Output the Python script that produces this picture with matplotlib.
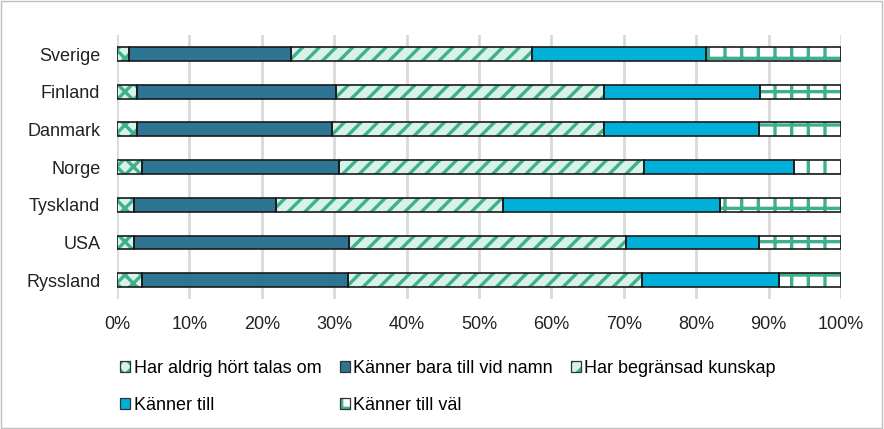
import numpy as np
import matplotlib.pyplot as plt
from matplotlib.patches import Patch, Rectangle

countries = ['Sverige', 'Finland', 'Danmark', 'Norge', 'Tyskland', 'USA', 'Ryssland']
series_names = ['Har aldrig hört talas om', 'Känner bara till vid namn',
                'Har begränsad kunskap', 'Känner till', 'Känner till väl']
aldrig = [1.6, 2.8, 2.8, 3.5, 2.3, 2.3, 3.5]
namn = [22.4, 27.5, 26.9, 27.1, 19.7, 29.7, 28.4]
begransad = [33.3, 36.9, 37.6, 42.2, 31.3, 38.3, 40.6]
kanner = [24.0, 21.6, 21.3, 20.7, 30.0, 18.4, 19.0]
val = [18.7, 11.2, 11.4, 6.5, 16.7, 11.3, 8.5]

green = '#3fb08f'
mint = '#d6f2e9'
styles = [
    dict(facecolor=mint, hatch='xx', hatchcol=green),
    dict(facecolor='#2d7592', hatch=None, hatchcol=None),
    dict(facecolor=mint, hatch='//', hatchcol=green),
    dict(facecolor='#00b0d8', hatch=None, hatchcol=None),
    dict(facecolor='white', hatch='+', hatchcol=green),
]

plt.rcParams['font.family'] = ['Liberation Sans', 'DejaVu Sans']
plt.rcParams['hatch.linewidth'] = 2.4
fs = 13

fig = plt.figure(figsize=(8.84, 4.29), dpi=100)
ax = fig.add_axes([0.1324, 0.303, 0.819, 0.615])

data = np.array([aldrig, namn, begransad, kanner, val])
data = data / data.sum(axis=0) * 100
y = np.arange(len(countries))
left = np.zeros(len(countries))
h = 0.37
for vals, st in zip(data, styles):
    if st['hatch']:
        ax.barh(y, vals, left=left, height=h, color=st['facecolor'],
                hatch=st['hatch'], edgecolor=st['hatchcol'], linewidth=0, zorder=2)
    else:
        ax.barh(y, vals, left=left, height=h, color=st['facecolor'], linewidth=0, zorder=2)
    ax.barh(y, vals, left=left, height=h, fill=False, edgecolor='#1a1a1a',
            linewidth=1.2, zorder=3)
    left += vals

ax.set_xlim(0, 100)
ax.set_ylim(len(countries) - 0.5, -0.5)
ax.set_yticks(y)
ax.set_yticklabels(countries, fontsize=fs)
ax.set_xticks(np.arange(0, 101, 10))
ax.set_xticklabels([f'{v}%' for v in range(0, 101, 10)], fontsize=fs)
ax.tick_params(axis='y', length=0, pad=12, colors='#222222')
ax.tick_params(axis='x', length=0, pad=12, colors='#222222')
ax.xaxis.grid(True, color='#d9d9d9', linewidth=2, zorder=0)
ax.set_axisbelow(True)
for s in ax.spines.values():
    s.set_visible(False)

# legend squares: fill/hatch patch with a dark outline drawn on top
handles = []
for st in styles:
    if st['hatch']:
        fill = Patch(facecolor=st['facecolor'], hatch=st['hatch'],
                     edgecolor=st['hatchcol'], linewidth=0)
    else:
        fill = Patch(facecolor=st['facecolor'], linewidth=0)
    outline = Patch(fill=False, edgecolor='#333333', linewidth=0.9)
    handles.append((fill, outline))
order = [0, 3, 1, 4, 2]
fig.legend([handles[i] for i in order], [series_names[i] for i in order],
           ncol=3, loc='upper left', bbox_to_anchor=(0.128, 0.177),
           frameon=False, fontsize=fs, handlelength=0.55, handleheight=0.55,
           handletextpad=0.2, columnspacing=1.0, labelspacing=1.1,
           borderaxespad=0)

fig.add_artist(Rectangle((0.001, 0.002), 0.997, 0.995, transform=fig.transFigure,
                         fill=False, edgecolor='#bfbfbf', linewidth=1))

fig.savefig('out.png', dpi=100)
